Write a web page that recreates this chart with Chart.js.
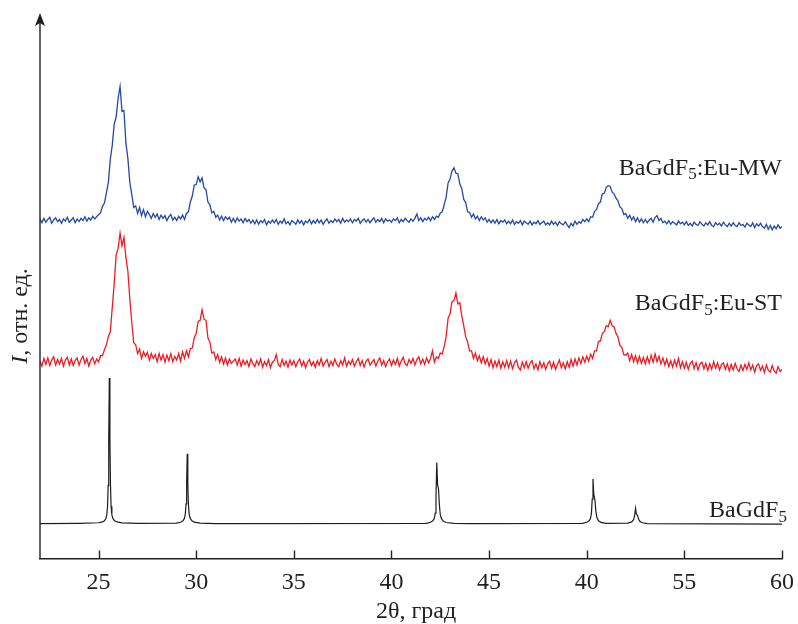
<!DOCTYPE html>
<html lang="ru">
<head>
<meta charset="utf-8">
<title>BaGdF5 XRD</title>
<script src="https://cdn.jsdelivr.net/npm/chart.js@4.4.1/dist/chart.umd.min.js"></script>
<style>
  html, body { margin: 0; padding: 0; background: #fff; }
  canvas { display: block; }
</style>
</head>
<body>
<canvas id="xrdChart" width="798" height="624"></canvas>
<script>
// шаг по 2θ у измеренных дифрактограмм
const thetaStart = 22;
const thetaStep = 0.1;

const tickValues = [25, 30, 35, 40, 45, 50, 55, 60];
const tickLabels = ['25', '30', '35', '40', '45', '40', '55', '60'];

// вертикальные сдвиги кривых
const offsetMW = 61.9;
const offsetST = 35.9;
const offsetRef = 6.5;

// BaGdF5:Eu-MW, 22.0 ... 60.0
const intensityMW = [
  0.5, -0.2, 0.6, -0.1, 0.4, 0.8, -0.3, 0.3, 0.7, 0.0,
  0.4, -0.3, 0.5, 0.1, 0.8, -0.1, 0.3, 0.7, -0.2, 0.5,
  0.0, 0.6, 0.2, 0.9, 0.1, 0.7, 0.3, 1.0, 0.5, 0.9,
  1.3, 1.6, 2.8, 3.4, 5.3, 7.2, 11.4, 14.0, 17.9, 19.2,
  22.6, 24.8, 20.2, 20.4, 14.4, 11.6, 7.2, 5.0, 2.6, 2.9,
  1.5, 2.6, 1.1, 2.2, 0.9, 1.9, 1.3, 0.6, 1.5, 0.8,
  1.4, 0.4, 1.2, 0.6, 1.1, 0.2, 0.9, 1.3, 0.3, 0.8,
  0.2, 1.0, 0.5, 1.2, 0.4, 1.5, 1.8, 3.6, 4.7, 6.7,
  6.8, 8.2, 7.3, 8.0, 6.2, 5.9, 3.6, 3.1, 1.6, 1.9,
  0.8, 1.2, 0.3, 1.0, 0.2, 0.9, 0.4, 0.8, -0.1, 0.6,
  -0.1, 0.7, 0.1, 0.5, -0.2, 0.6, 0.0, 0.4, -0.3, 0.3,
  -0.4, 0.3, -0.5, 0.2, -0.2, 0.4, -0.6, 0.1, -0.3, 0.3,
  -0.2, 0.4, -0.5, 0.1, -0.3, 0.5, -0.4, 0.0, -0.6, 0.2,
  -0.1, -0.5, 0.3, -0.3, 0.2, -0.6, 0.1, -0.2, 0.4, -0.4,
  0.2, -0.3, 0.4, -0.2, 0.3, -0.5, 0.1, 0.5, -0.3, 0.2,
  -0.2, 0.5, 0.0, 0.4, -0.3, 0.6, -0.1, 0.3, 0.0, 0.5,
  -0.2, 0.4, 0.1, 0.6, -0.3, 0.2, 0.5, -0.1, 0.4, -0.2,
  0.3, 0.7, -0.1, 0.4, 0.0, 0.6, -0.2, 0.5, 0.1, 0.3,
  -0.1, 0.5, 0.2, 0.7, -0.2, 0.4, 0.0, 0.6, 0.2, -0.1,
  0.5, 0.1, 0.6, 1.4, 0.2, 0.7, 0.0, 0.6, 0.3, 0.8,
  0.2, 0.9, 0.4, 1.0, 0.8, 1.6, 1.8, 3.1, 4.5, 7.1,
  7.8, 9.3, 9.9, 8.9, 8.8, 6.9, 6.1, 4.1, 3.5, 1.8,
  1.7, 0.8, 1.4, 0.5, 1.0, 0.2, 0.9, 0.3, 0.7, -0.1,
  0.4, -0.2, 0.3, -0.3, 0.4, -0.4, 0.2, -0.1, 0.3, -0.4,
  0.1, -0.4, 0.3, -0.5, 0.0, -0.3, 0.2, -0.6, 0.1, -0.2,
  -0.5, 0.1, -0.6, -0.1, -0.4, 0.2, -0.5, -0.2, 0.1, -0.6,
  -0.2, -0.6, 0.1, -0.5, -0.1, -0.7, 0.0, -0.4, -0.6, 0.0,
  -0.6, -1.1, -0.3, -0.8, 0.1, -0.5, 0.0, -0.3, 0.4, 0.0,
  0.5, 0.0, 0.9, 0.8, 1.9, 2.2, 3.3, 3.6, 5.1, 5.2,
  6.3, 6.6, 6.5, 5.4, 5.1, 4.3, 3.8, 2.7, 2.4, 1.3,
  1.5, 0.6, 1.2, 0.3, 0.9, 0.0, 0.7, -0.1, 0.5, -0.2,
  0.4, -0.2, 0.3, 0.6, -0.1, 0.8, 1.1, 0.2, 0.6, -0.2,
  0.1, -0.4, 0.2, -0.5, 0.0, -0.3, -0.6, 0.1, -0.4, -0.1,
  -0.6, 0.0, -0.7, -0.3, -0.8, -0.1, -0.5, -0.7, 0.0, -0.5,
  -0.8, -0.2, -0.6, 0.0, -0.7, -0.9, -0.2, -0.6, -0.3, -0.8,
  -0.1, -0.6, -0.9, -0.3, -0.8, -0.2, -0.7, -0.9, -0.2, -0.7,
  -0.5, -1.0, -0.3, -0.6, -0.9, -0.2, -1.1, -0.4, -0.8, -0.3,
  -0.9, -1.2, -0.5, -1.4, -0.7, -1.5, -0.8, -1.3, -0.6, -1.2,
  -0.9
];

// BaGdF5:Eu-ST, 22.0 ... 60.0
const intensityST = [
  0.4, -0.5, 0.9, -0.2, 1.0, -0.4, 0.6, 1.2, -0.3, 0.7,
  -0.1, 0.9, -0.5, 0.6, 1.1, -0.3, 0.8, -0.4, 0.5, 1.0,
  -0.3, 0.7, 1.3, 0.0, 0.9, -0.5, 0.6, 1.1, -0.1, 0.8,
  0.3, 1.4, 1.4, 2.5, 3.4, 4.9, 5.8, 10.2, 14.6, 19.9,
  21.1, 23.9, 21.6, 23.1, 19.4, 16.9, 11.8, 7.5, 3.8, 3.4,
  1.8, 2.6, 0.9, 2.1, 1.3, 2.0, 0.6, 1.8, 0.9, 1.6,
  0.3, 1.8, 0.6, 1.6, 0.2, 1.5, 0.5, 1.8, 0.3, 1.3,
  0.6, 1.8, 0.4, 2.1, 0.9, 2.3, 1.2, 2.7, 2.8, 4.7,
  5.5, 7.7, 7.9, 9.8, 8.1, 7.9, 4.7, 3.9, 1.9, 2.1,
  0.7, 1.6, 0.2, 1.2, -0.1, 1.0, -0.3, 0.8, 0.0, 0.4,
  0.8, -0.3, 0.9, -0.5, 0.6, -0.2, 0.5, -0.6, 0.8, 0.0,
  -0.6, 0.5, -0.3, 0.8, -0.7, 0.3, -0.4, 0.7, -0.8, 0.2,
  0.5, 1.6, -0.2, -0.6, 0.7, -0.4, 0.4, -0.7, 0.6, -0.3,
  0.5, -0.6, 0.3, 0.8, -0.5, 0.4, -0.8, 0.2, 0.7, -0.4,
  0.3, -0.7, 0.5, -0.3, 0.9, -0.5, 0.2, 0.7, -0.6, 0.4,
  -0.4, 0.8, -0.2, -0.6, 0.5, -0.3, 1.0, -0.5, 0.4, -0.2,
  0.7, -0.5, 0.3, 0.9, -0.4, 0.5, -0.7, 0.4, 0.8, -0.3,
  0.2, 0.7, -0.5, 0.4, 1.0, -0.3, 0.5, -0.6, 0.3, 0.8,
  -0.4, 0.6, -0.2, 0.9, -0.5, 0.4, 1.1, -0.1, -0.4, 0.7,
  0.0, 0.9, -0.3, 0.7, 1.2, -0.1, 0.8, -0.2, 1.0, 0.1,
  0.9, 2.3, 0.2, 1.2, 0.9, 1.9, 1.7, 3.1, 4.9, 8.3,
  9.1, 11.3, 11.5, 12.9, 10.9, 11.1, 8.7, 6.9, 4.9, 3.9,
  2.3, 2.3, 0.9, 1.9, 0.5, 1.4, 0.1, 1.2, -0.1, 0.9,
  -0.5, 0.7, -0.8, 0.4, -0.6, 0.6, -0.9, 0.3, -0.7, 0.5,
  -0.8, 0.4, -1.0, 0.1, 0.6, -0.7, -1.2, 0.2, -0.8, 0.3,
  -0.9, 0.1, 0.5, -1.0, -0.1, -1.2, 0.3, -0.8, 0.1, -1.1,
  -0.1, 0.4, -0.9, 0.2, -1.1, -0.2, 0.6, -0.8, 0.1, -1.0,
  0.3, -0.7, 0.7, -0.5, 0.8, -0.3, 1.0, 0.0, 1.2, 0.2,
  1.3, 0.4, 1.7, 0.9, 2.3, 2.3, 4.0, 4.1, 5.5, 5.8,
  6.9, 6.7, 7.9, 6.9, 6.7, 5.5, 4.8, 3.3, 2.9, 1.6,
  1.5, 1.9, 0.5, 1.6, 0.3, 1.4, 0.1, 1.3, 0.0, 1.1,
  -0.1, 1.2, 0.1, 1.5, 0.2, 1.7, 0.3, 1.3, -0.1, 1.0,
  -0.3, 0.8, -0.6, 0.5, -0.7, 0.6, -0.5, 0.9, -0.8, 0.3,
  -0.9, 0.2, -1.1, 0.0, 0.4, -1.0, 0.1, -1.2, -0.1, 0.2,
  -1.0, 0.0, -1.3, -0.1, -1.1, 0.3, -0.9, 0.1, -1.2, -0.2,
  0.1, -1.1, -0.1, -1.4, -0.2, -1.2, 0.0, -1.0, -1.5, -0.3,
  -1.3, -0.2, -1.1, 0.1, -1.2, -0.3, -1.6, -0.4, -0.1, -1.3,
  -0.5, -1.7, -0.3, -1.3, -1.6, -0.4, -1.4, -1.8, -0.6, -1.5,
  -1.1
];

// эталонная BaGdF5: узкие рефлексы, неравномерная сетка по 2θ
const refTheta = [
  22, 24, 25.0, 25.2, 25.3, 25.37, 25.42, 25.46, 25.49, 25.52, 25.55, 25.58, 25.61, 25.64, 25.68, 25.74, 25.82, 25.95, 26.2, 27,
  29.0, 29.2, 29.32, 29.39, 29.44, 29.48, 29.51, 29.54, 29.57, 29.6, 29.64, 29.7, 29.78, 29.9, 30.2, 31,
  41.8, 42.0, 42.12, 42.19, 42.24, 42.28, 42.32, 42.36, 42.41, 42.45, 42.5, 42.56, 42.65, 42.8, 43.2, 44,
  49.8, 50.0, 50.12, 50.19, 50.24, 50.28, 50.32, 50.36, 50.42, 50.47, 50.52, 50.6, 50.72, 51.0,
  52.1, 52.3, 52.4, 52.46, 52.5, 52.54, 52.6, 52.66, 52.74, 52.85, 53.1, 60
];
const refIntensity = [
  0, 0.05, 0.15, 0.3, 0.5, 0.9, 1.6, 3.2, 7.0, 15.5, 26.7, 15.5, 7.0, 3.2, 1.6, 0.9, 0.5, 0.3, 0.12, 0.05,
  0.1, 0.25, 0.5, 0.9, 1.7, 3.6, 7.5, 12.8, 7.5, 3.6, 1.7, 0.9, 0.5, 0.25, 0.1, 0,
  0.05, 0.25, 0.5, 0.9, 1.9, 5.0, 11.2, 7.2, 6.3, 3.6, 1.6, 0.9, 0.45, 0.2, 0.05, 0,
  0.05, 0.25, 0.5, 0.9, 1.9, 4.5, 8.2, 5.4, 4.3, 2.2, 1.1, 0.5, 0.22, 0.05,
  0.1, 0.3, 0.7, 1.6, 2.8, 1.8, 1.5, 0.8, 0.35, 0.15, 0.0, -0.1
];

const serif = '"Liberation Serif", "DejaVu Serif", serif';
const inkColor = '#231f20';

function scanPoints(values, offset) {
  return values.map((v, i) => ({ x: +(thetaStart + i * thetaStep).toFixed(2), y: v + offset }));
}

function refPoints() {
  return refTheta.map((t, i) => ({ x: t, y: refIntensity[i] + offsetRef }));
}

// текст с нижним индексом, выровненный по правому краю
function drawFormula(ctx, parts, rightX, baseY) {
  const bigFont = '24px ' + serif;
  const subFont = '17px ' + serif;
  let total = 0;
  parts.forEach(p => {
    ctx.font = p.sub ? subFont : bigFont;
    total += ctx.measureText(p.text).width;
  });
  let x = rightX - total;
  ctx.textAlign = 'left';
  ctx.textBaseline = 'alphabetic';
  parts.forEach(p => {
    ctx.font = p.sub ? subFont : bigFont;
    ctx.fillText(p.text, x, p.sub ? baseY + 4.5 : baseY);
    x += ctx.measureText(p.text).width;
  });
}

const curveLabels = [
  { parts: [{ text: 'BaGdF' }, { text: '5', sub: true }, { text: ':Eu-MW' }], x: 60, y: 70.5 },
  { parts: [{ text: 'BaGdF' }, { text: '5', sub: true }, { text: ':Eu-ST' }], x: 60, y: 45.6 },
  { parts: [{ text: 'BaGdF' }, { text: '5', sub: true }], x: 60.25, y: 7.7 }
];

const axisDecor = {
  id: 'axisDecor',
  afterDraw(chart) {
    const { ctx, chartArea } = chart;
    const xs = chart.scales.x;
    const ys = chart.scales.y;
    const left = chartArea.left;
    const bottom = chartArea.bottom;
    ctx.save();
    ctx.strokeStyle = inkColor;
    ctx.fillStyle = inkColor;
    ctx.lineWidth = 1.4;

    // ось ординат со стрелкой
    ctx.beginPath();
    ctx.moveTo(left, bottom);
    ctx.lineTo(left, chartArea.top + 8);
    ctx.stroke();
    ctx.beginPath();
    ctx.moveTo(left, chartArea.top - 1);
    ctx.lineTo(left - 5, chartArea.top + 12);
    ctx.lineTo(left, chartArea.top + 9);
    ctx.lineTo(left + 5, chartArea.top + 12);
    ctx.closePath();
    ctx.fill();

    // засечки внутрь
    ctx.beginPath();
    tickValues.forEach(v => {
      const px = Math.round(xs.getPixelForValue(v)) + 0.5;
      ctx.moveTo(px, bottom);
      ctx.lineTo(px, bottom - 8.5);
    });
    ctx.stroke();

    // подписи кривых
    curveLabels.forEach(l => {
      drawFormula(ctx, l.parts, xs.getPixelForValue(l.x), ys.getPixelForValue(l.y));
    });

    // подпись оси X
    ctx.font = '24px ' + serif;
    ctx.textAlign = 'center';
    ctx.textBaseline = 'alphabetic';
    ctx.fillText('2θ, град', (chartArea.left + chartArea.right) / 2 + 5, 618);

    // подпись оси Y: I курсивом
    ctx.translate(27, 316);
    ctx.rotate(-Math.PI / 2);
    ctx.font = 'italic 24px ' + serif;
    const wI = ctx.measureText('I').width;
    ctx.font = '24px ' + serif;
    const rest = ', отн. ед.';
    const wRest = ctx.measureText(rest).width;
    const x0 = -(wI + wRest) / 2;
    ctx.textAlign = 'left';
    ctx.font = 'italic 24px ' + serif;
    ctx.fillText('I', x0, 0);
    ctx.font = '24px ' + serif;
    ctx.fillText(rest, x0 + wI, 0);
    ctx.restore();
  }
};

const ctx = document.getElementById('xrdChart').getContext('2d');
const xrdChart = new Chart(ctx, {
  type: 'line',
  data: {
    datasets: [
      {
        label: 'BaGdF5:Eu-MW',
        data: scanPoints(intensityMW, offsetMW),
        borderColor: '#2449a4',
        borderWidth: 1.3
      },
      {
        label: 'BaGdF5:Eu-ST',
        data: scanPoints(intensityST, offsetST),
        borderColor: '#ec1c24',
        borderWidth: 1.3
      },
      {
        label: 'BaGdF5',
        data: refPoints(),
        borderColor: '#1e1e1e',
        borderWidth: 1.2
      }
    ]
  },
  options: {
    responsive: false,
    animation: false,
    devicePixelRatio: 1,
    elements: {
      point: { radius: 0 },
      line: { tension: 0 }
    },
    layout: {
      padding: { left: 40, right: 16, top: 14, bottom: 0 }
    },
    plugins: {
      legend: { display: false },
      tooltip: { enabled: false }
    },
    scales: {
      x: {
        type: 'linear',
        min: 22,
        max: 60,
        afterBuildTicks: scale => {
          scale.ticks = tickValues.map(v => ({ value: v }));
        },
        afterFit: scale => {
          scale.height = 65;
          scale.paddingLeft = 0;
          scale.paddingRight = 0;
        },
        grid: { display: false },
        border: { display: true, color: inkColor, width: 1.4 },
        ticks: {
          color: inkColor,
          padding: 1,
          maxRotation: 0,
          font: { family: serif, size: 24 },
          callback: value => tickLabels[tickValues.indexOf(value)]
        }
      },
      y: {
        display: false,
        min: 0,
        max: 100
      }
    }
  },
  plugins: [axisDecor]
});
</script>
</body>
</html>
